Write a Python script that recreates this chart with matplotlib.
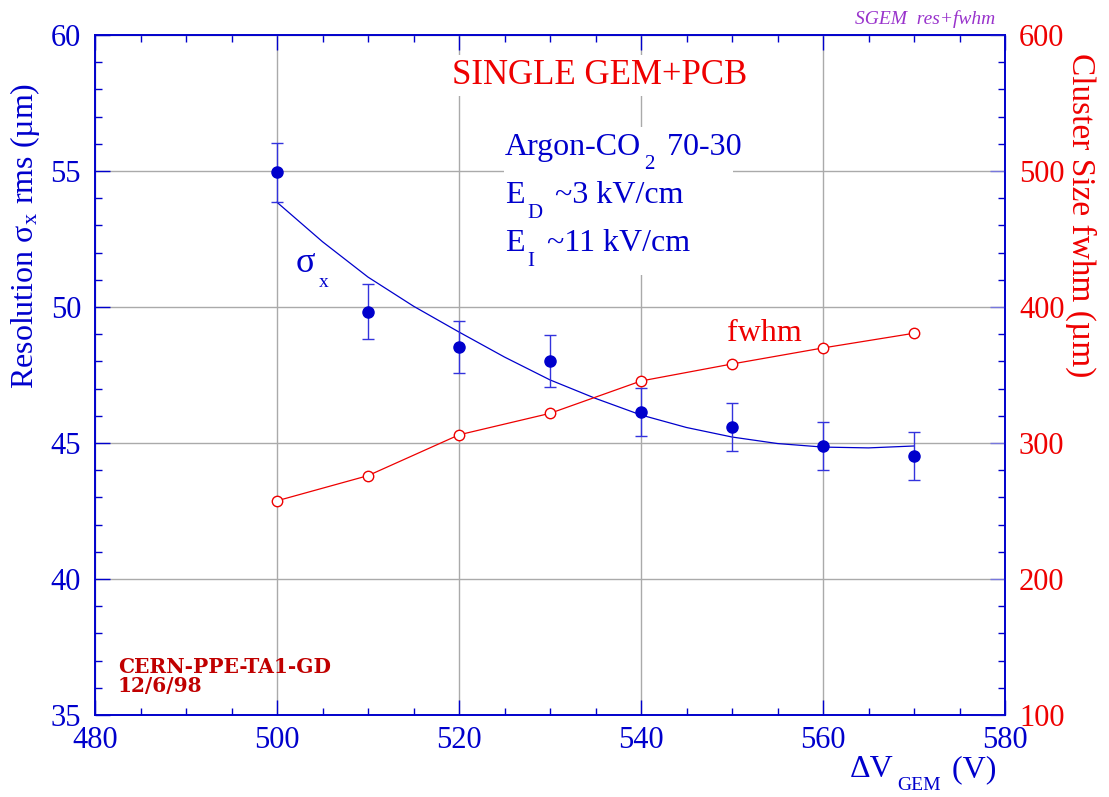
import matplotlib
matplotlib.use("Agg")
import matplotlib.pyplot as plt
import matplotlib.transforms as mtransforms
from matplotlib.patches import Rectangle
from matplotlib.ticker import MultipleLocator

plt.rcParams['font.family'] = ['Liberation Serif', 'DejaVu Serif']
plt.rcParams['mathtext.fontset'] = 'stix'

# datos
voltaje = [500, 510, 520, 530, 540, 550, 560, 570]
sigma_x = [54.95, 49.83, 48.53, 48.02, 46.14, 45.59, 44.89, 44.53]
sigma_err = [1.08, 1.0, 0.95, 0.95, 0.88, 0.88, 0.88, 0.88]
fwhm = [257.5, 276.0, 306.0, 321.8, 345.6, 358.1, 369.9, 380.7]

# curva de ajuste de sigma
v_ajuste = [500, 505, 510, 515, 520, 525, 530, 535, 540, 545, 550, 555, 560, 565, 570]
sigma_ajuste = [53.85, 52.4, 51.1, 50.03, 49.08, 48.16, 47.32, 46.64, 46.03,
                45.57, 45.22, 44.98, 44.85, 44.82, 44.89]

azul = '#0000cc'
rojo = '#ee0000'

fig = plt.figure(figsize=(11.09, 7.97), dpi=100)
ax1 = fig.add_axes([95/1109, 1 - 715/797, 910/1109, 680/797])
ax2 = ax1.twinx()
renderer = fig.canvas.get_renderer()


def texto_sub(x, y, partes, base, color, size, subsize, caida):
    # escribe texto con subindices bajos (estilo PAW), pieza por pieza
    dx = 0
    for s, es_sub in partes:
        if es_sub:
            dx += 3
        tr = mtransforms.offset_copy(base, fig=fig, x=dx,
                                     y=-caida if es_sub else 0, units='dots')
        t = fig.text(x, y, s, transform=tr, color=color,
                     fontsize=subsize if es_sub else size,
                     ha='left', va='baseline', zorder=6)
        dx += t.get_window_extent(renderer).width
        if es_sub:
            dx += 4


# resolucion (eje izquierdo)
ax1.errorbar(voltaje, sigma_x, yerr=sigma_err, fmt='o', color=azul, ms=8,
             ecolor='#3333dd', elinewidth=1.0, capsize=4, capthick=1.0, zorder=5)
ax1.plot(v_ajuste, sigma_ajuste, '-', color=azul, lw=0.9, zorder=4)

# tamano del cluster (eje derecho)
ax2.plot(voltaje, fwhm, '-', color=rojo, lw=0.9)
ax2.plot(voltaje, fwhm, 'o', mfc='white', mec=rojo, mew=1.0, ms=7.5, ls='none')

ax1.set_xlim(480, 580)
ax1.set_ylim(35, 60)
ax2.set_ylim(100, 600)

ax1.xaxis.set_major_locator(MultipleLocator(20))
ax1.xaxis.set_minor_locator(MultipleLocator(5))
ax1.yaxis.set_major_locator(MultipleLocator(5))
ax1.yaxis.set_minor_locator(MultipleLocator(1))
ax2.yaxis.set_major_locator(MultipleLocator(100))
ax2.yaxis.set_minor_locator(MultipleLocator(20))

ax1.grid(True, which='major', color='#aaaaaa', lw=1.0)
ax1.set_axisbelow(True)

for ax in (ax1, ax2):
    for s in ax.spines.values():
        s.set_color(azul)
        s.set_linewidth(1.2)

ax1.tick_params(axis='x', which='both', direction='in', top=True, bottom=True,
                colors=azul, labelsize=22, pad=8)
ax1.tick_params(axis='y', which='both', direction='in', left=True, right=False,
                colors=azul, labelsize=22, pad=10)
ax1.tick_params(which='major', length=11, width=1.0)
ax1.tick_params(which='minor', length=5, width=1.0)
ax2.tick_params(axis='y', which='both', direction='in', right=True, left=False,
                colors=azul, labelcolor=rojo, labelsize=22, pad=10)
ax2.tick_params(which='major', length=11, width=1.0, color='#7777dd')
ax2.tick_params(which='minor', length=5, width=1.0)

ax1.set_ylabel(r'Resolution σ$_\mathregular{x}$ rms (µm)', color=azul, fontsize=23)
ax1.yaxis.set_label_coords(-0.058, 0.705)
ax2.set_ylabel('Cluster Size fwhm (µm)', color=rojo, fontsize=24, rotation=270)
ax2.yaxis.set_label_coords(1.100, 0.735)

# eje x: Delta V_GEM (V)
texto_sub(850/1109, 1 - 777/797,
          [('ΔV', False), ('GEM', True), (' (V)', False)],
          fig.transFigure, azul, 23, 14, 13)

# textos dentro del grafico
ax1.text(0.555, 0.928, 'SINGLE GEM+PCB', transform=ax1.transAxes, color=rojo,
         fontsize=25, ha='center', va='baseline',
         bbox=dict(facecolor='white', edgecolor='none', pad=3))
ax1.add_patch(Rectangle((0.4495, 0.647), 0.2515, 0.218, transform=ax1.transAxes,
                        facecolor='white', edgecolor='none', zorder=1))
texto_sub(505/1109, 1 - 155/797,
          [('Argon-CO', False), ('2', True), (' 70-30', False)],
          fig.transFigure, azul, 23, 15, 14)
texto_sub(505/1109, 1 - 203/797,
          [('E', False), ('D', True), (' ~3 kV/cm', False)],
          fig.transFigure, azul, 23, 15, 15)
texto_sub(505/1109, 1 - 251/797,
          [('E', False), ('I', True), (' ~11 kV/cm', False)],
          fig.transFigure, azul, 23, 15, 15)
texto_sub(296/1109, 1 - 272/797, [('σ', False), ('x', True)],
          fig.transFigure, azul, 26, 14, 15)
ax2.text(0.694, 0.55, 'fwhm', transform=ax1.transAxes, color=rojo,
         fontsize=23, ha='left', va='baseline')

fig.text(118/1109, 1 - 673/797, 'CERN-PPE-TA1-GD', color='#c00000',
         fontsize=14.5, fontweight='bold', family='DejaVu Serif', ha='left',
         va='baseline')
fig.text(118/1109, 1 - 692/797, '12/6/98', color='#c00000',
         fontsize=14.5, fontweight='bold', family='DejaVu Serif', ha='left',
         va='baseline')
fig.text(995/1109, 1 - 24/797, 'SGEM  res+fwhm', color='#9933cc', fontsize=14,
         style='italic', ha='right', va='baseline')

fig.savefig('out.png', dpi=100)
